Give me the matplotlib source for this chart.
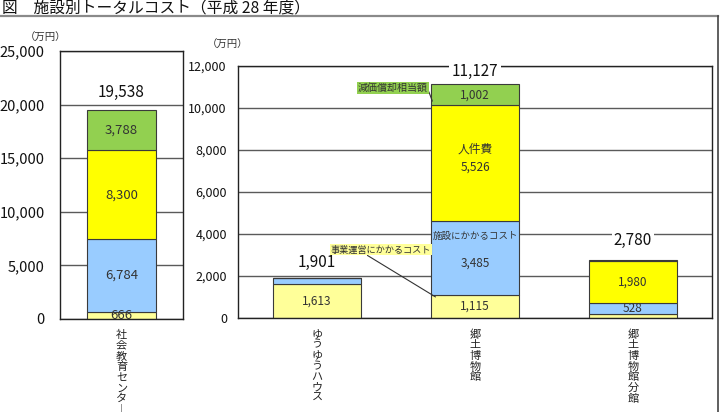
import matplotlib
matplotlib.use("Agg")
import matplotlib.pyplot as plt
from matplotlib.lines import Line2D

plt.rcParams['font.family'] = ['Noto Sans CJK JP', 'DejaVu Sans']

# ---- data ----
title = "図　施設別トータルコスト（平成 28 年度）"
unit = "（万円）"
series_names = ["事業運営にかかるコスト", "施設にかかるコスト", "人件費", "減価償却相当額"]
colors = ["#FFFF99", "#99CCFF", "#FFFF00", "#92D050"]

left_categories = ["社会教育センター"]
left_operation = [666]
left_facility = [6784]
left_personnel = [8300]
left_depreciation = [3788]
left_totals = ["19,538"]

right_categories = ["ゆうゆうハウス", "郷土博物館", "郷土博物館分館"]
right_operation = [1613, 1115, 190]
right_facility = [288, 3485, 528]
right_personnel = [0, 5526, 1980]
right_depreciation = [0, 1002, 82]
right_totals = ["1,901", "11,127", "2,780"]

left_yticks = [0, 5000, 10000, 15000, 20000, 25000]
right_yticks = [0, 2000, 4000, 6000, 8000, 10000, 12000]

W, H = 721, 412
fig = plt.figure(figsize=(W / 100, H / 100), dpi=100)


def fx(px):
    return px / W


def fy(py):
    return 1 - py / H


axL = fig.add_axes([fx(60), fy(319), fx(183) - fx(60), fy(51) - fy(319)])
axR = fig.add_axes([fx(238), fy(318), fx(712) - fx(238), fy(66) - fy(318)])


def vertical(s):
    return "\n".join(ch if ch != "ー" else "｜" for ch in s)


def draw(ax, cats, segs, totals, yticks, tick_fs, tick_pad, total_fs, total_offsets):
    x = list(range(len(cats)))
    bottoms = [0] * len(cats)
    bars = []
    for vals, col in zip(segs, colors):
        b = ax.bar(x, vals, 0.56, bottom=bottoms, color=col, edgecolor="#3a3a3a",
                   linewidth=0.8, zorder=3)
        bars.append((b, vals, list(bottoms)))
        bottoms = [bb + v for bb, v in zip(bottoms, vals)]
    ax.set_xlim(-0.5, len(cats) - 0.5)
    ax.set_ylim(yticks[0], yticks[-1])
    ax.set_yticks(yticks)
    ax.set_yticklabels([f"{t:,}" for t in yticks], fontsize=tick_fs, color="#111111")
    ax.yaxis.grid(True, color="#5a5a5a", linewidth=1.0, zorder=0)
    ax.set_axisbelow(True)
    ax.tick_params(axis="y", length=0, pad=tick_pad)
    ax.set_xticks(x)
    ax.set_xticklabels([vertical(c) for c in cats], fontsize=8, linespacing=1.08,
                       va="top", color="#222222")
    ax.tick_params(axis="x", length=0, pad=8)
    for sp in ax.spines.values():
        sp.set_color("#222222")
        sp.set_linewidth(1.0)
        sp.set_zorder(4)
    for i, t in enumerate(totals):
        ax.annotate(t, (x[i], bottoms[i]), xytext=(0, total_offsets[i]),
                    textcoords="offset points", ha="center", va="center",
                    fontsize=total_fs, color="#111111", zorder=6, annotation_clip=False,
                    bbox=dict(boxstyle="square,pad=0.15", fc="white", ec="none"))
    return bars, bottoms


bl, _ = draw(axL, left_categories,
             [left_operation, left_facility, left_personnel, left_depreciation],
             left_totals, left_yticks, 10.5, 11, 11, [12.5])
for b, vals, bots in bl:
    for i, v in enumerate(vals):
        if v > 300:
            axL.text(i, bots[i] + v / 2, f"{v:,}", ha="center", va="center",
                     fontsize=9.5, color="#333333", zorder=5)

br, tops = draw(axR, right_categories,
                [right_operation, right_facility, right_personnel, right_depreciation],
                right_totals, right_yticks, 9, 8, 11, [11, 9.5, 14])
for k, (b, vals, bots) in enumerate(br):
    for i, v in enumerate(vals):
        if v > 300:
            if i == 1 and k == 2:
                axR.text(i, bots[i] + v / 2 + 250, f"{series_names[2]}\n{v:,}", ha="center",
                         va="center", fontsize=8.5, color="#333333", zorder=5,
                         linespacing=1.6)
            elif i == 1 and k == 1:
                axR.text(i, bots[i] + v - 700, series_names[1], ha="center",
                         va="center", fontsize=6.8, color="#333333", zorder=5)
                axR.text(i, bots[i] + v / 2 - 250, f"{v:,}", ha="center",
                         va="center", fontsize=8.5, color="#333333", zorder=5)
            else:
                axR.text(i, bots[i] + v / 2, f"{v:,}", ha="center", va="center",
                         fontsize=8.5, color="#333333", zorder=5)

# callouts on 郷土博物館
kb = 1
dep_y = right_operation[kb] + right_facility[kb] + right_personnel[kb] + right_depreciation[kb] * 0.2
axR.annotate(series_names[3], xy=(kb - 0.28 + 0.01, dep_y), xytext=(0.48, 10950),
             ha="center", va="center", fontsize=7.2, color="#333333", zorder=6,
             bbox=dict(boxstyle="square,pad=0.1", fc="#92D050", ec="none"),
             arrowprops=dict(arrowstyle="-", color="#333333", lw=0.8,
                             shrinkA=0, shrinkB=0, relpos=(1.0, 0.4)))
axR.annotate(series_names[0], xy=(kb - 0.28 + 0.03, right_operation[kb] * 0.9),
             xytext=(0.405, 3240),
             ha="center", va="center", fontsize=6.6, color="#333333", zorder=6,
             bbox=dict(boxstyle="square,pad=0.1", fc="#FFFF99", ec="none"),
             arrowprops=dict(arrowstyle="-", color="#333333", lw=0.8,
                             shrinkA=0, shrinkB=0, relpos=(0.35, 0.0)))

# unit labels
fig.text(fx(46), fy(38), unit, ha="center", va="center", fontsize=7.5, color="#333333")
fig.text(fx(228), fy(45), unit, ha="center", va="center", fontsize=7.5, color="#333333")

# title and page decoration
fig.text(fx(2), fy(8), title, ha="left", va="center", fontsize=11.3, color="#111111")
fig.add_artist(Line2D([0, fx(718)], [fy(16), fy(16)], color="#8a8a8a", lw=1.6))
fig.add_artist(Line2D([fx(718), fx(718)], [fy(16), 0], color="#444444", lw=1.2))

fig.savefig("out.png", dpi=100)
